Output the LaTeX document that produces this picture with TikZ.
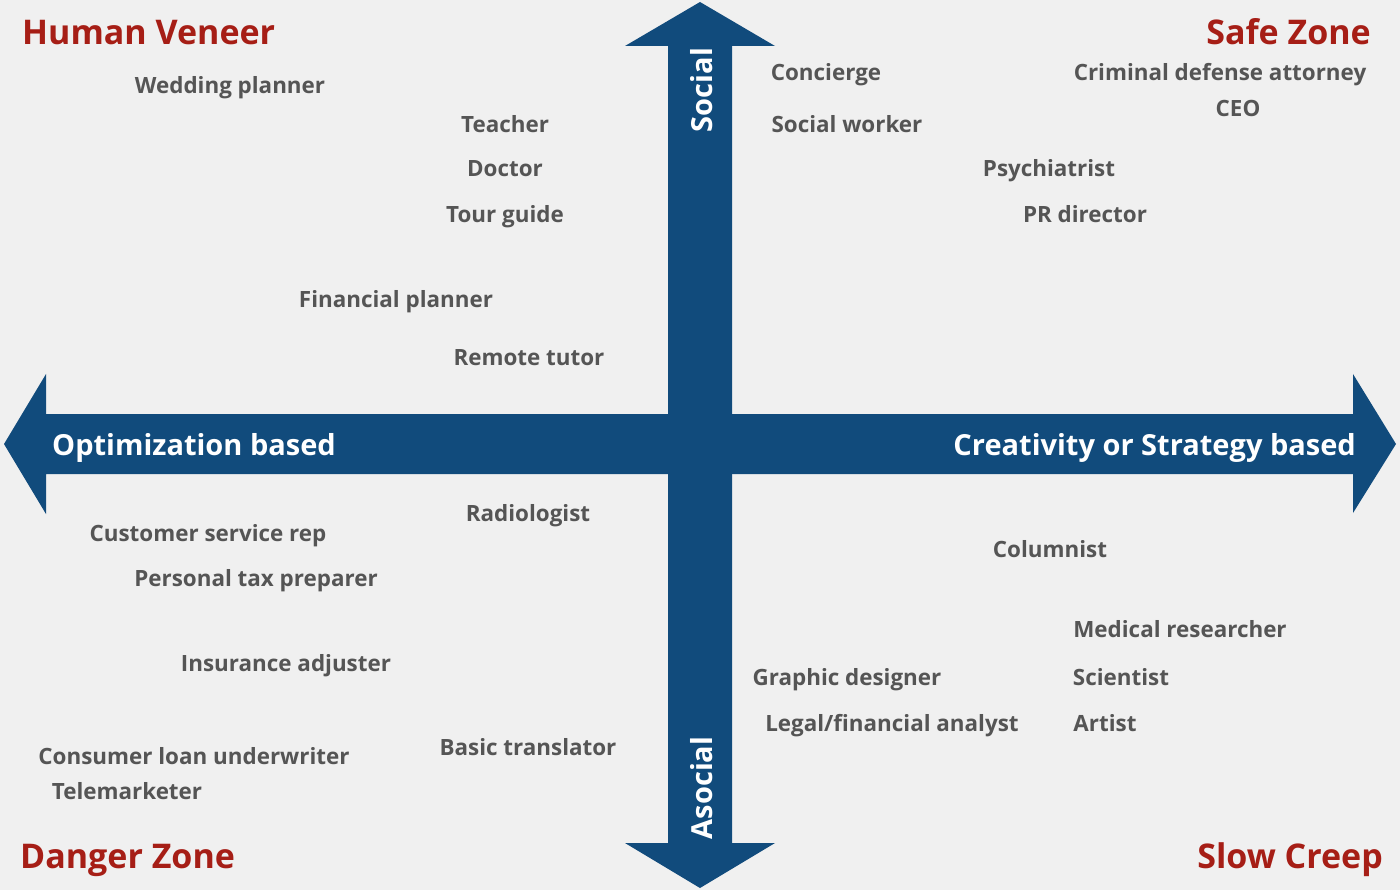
\documentclass[tikz,border=0pt]{standalone}
\usepackage{fontspec}
\setmainfont{Open Sans}
\definecolor{bg}{HTML}{F0F0F0}
\definecolor{axisblue}{HTML}{114B7C}
\definecolor{zonered}{HTML}{A61E16}
\definecolor{jobgrey}{HTML}{555555}
\tikzset{
  job/.style={text=jobgrey, font=\fontsize{22.4}{26}\selectfont\bfseries, inner sep=0pt, anchor=base},
  zone/.style={text=zonered, font=\fontsize{34}{40}\selectfont\bfseries, inner sep=0pt},
  axislabel/.style={text=white, font=\fontsize{29}{34}\selectfont\bfseries, inner sep=0pt},
  axisshape/.style={fill=axisblue, draw=none}
}
\begin{document}
\begin{tikzpicture}[x=1pt,y=-1pt]
\fill[bg] (0,0) rectangle (1400,890);
\useasboundingbox (0,0) rectangle (1400,890);
% axes
\fill[axisshape] (4,444) -- (46,374) -- (46,414) -- (1353,414) -- (1353,374) -- (1396,444) -- (1353,513) -- (1353,474) -- (46,474) -- (46,514) -- cycle;
\fill[axisshape] (700,2) -- (775,46) -- (732,46) -- (732,843) -- (775,843) -- (700,888) -- (625,843) -- (668,843) -- (668,46) -- (625,46) -- cycle;
% axis labels
\node[axislabel, anchor=base west] (opt) at (52,455) {Optimization based};
\node[axislabel, anchor=base east] (cre) at (1356,455) {Creativity or Strategy based};
\node[axislabel, rotate=90, anchor=base] (soc) at (712,90) {Social};
\node[axislabel, rotate=90, anchor=base] (aso) at (712,788) {Asocial};
% zones
\node[zone, anchor=base west] (hv) at (22,45) {Human Veneer};
\node[zone, anchor=base east] (sz) at (1371,45) {Safe Zone};
\node[zone, anchor=base west] (dz) at (20,868) {Danger Zone};
\node[zone, anchor=base east] (sc) at (1383,868) {Slow Creep};
% jobs
\node[job] (j1) at (230,94) {Wedding planner};
\node[job] (j2) at (505,133) {Teacher};
\node[job] (j3) at (505,177) {Doctor};
\node[job] (j4) at (505,223) {Tour guide};
\node[job] (j5) at (396,308) {Financial planner};
\node[job] (j6) at (529,366) {Remote tutor};
\node[job] (j7) at (826,81) {Concierge};
\node[job] (j8) at (847,133) {Social worker};
\node[job] (j9) at (1220,81) {Criminal defense attorney};
\node[job] (j10) at (1238,117) {CEO};
\node[job] (j11) at (1049,177) {Psychiatrist};
\node[job] (j12) at (1085,223) {PR director};
\node[job] (j13) at (528,521) {Radiologist};
\node[job] (j14) at (208,541) {Customer service rep};
\node[job] (j15) at (256,586) {Personal tax preparer};
\node[job] (j16) at (286,671) {Insurance adjuster};
\node[job] (j17) at (194,764) {Consumer loan underwriter};
\node[job] (j18) at (127,799) {Telemarketer};
\node[job] (j19) at (528,755) {Basic translator};
\node[job] (j20) at (1050,557) {Columnist};
\node[job] (j21) at (1180,637) {Medical researcher};
\node[job] (j22) at (847,685) {Graphic designer};
\node[job] (j23) at (1121,685) {Scientist};
\node[job] (j24) at (892,731) {Legal/financial analyst};
\node[job] (j25) at (1105,731) {Artist};
\end{tikzpicture}
\end{document}
